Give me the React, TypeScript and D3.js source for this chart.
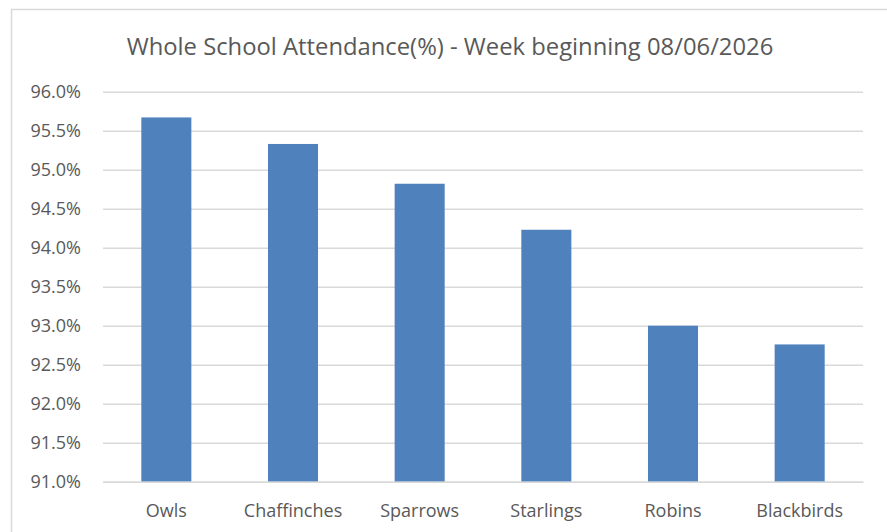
import React, { useEffect, useRef } from 'react';
import * as d3 from 'd3';

const categories = ['Owls', 'Chaffinches', 'Sparrows', 'Starlings', 'Robins', 'Blackbirds'];
const attendance = [95.67, 95.33, 94.82, 94.23, 93.0, 92.76];
const yTicks = [91.0, 91.5, 92.0, 92.5, 93.0, 93.5, 94.0, 94.5, 95.0, 95.5, 96.0];
const title = 'Whole School Attendance(%) - Week beginning 08/06/2026';

const W = 887;
const H = 532;
const FONT = "'Open Sans', 'Noto Sans', sans-serif";

const App: React.FC = () => {
  const svgRef = useRef<SVGSVGElement>(null);

  useEffect(() => {
    const svg = d3.select(svgRef.current);
    svg.selectAll('*').remove();

    const x = d3.scaleBand<string>().domain(categories).range([103, 863]).paddingInner(0.605).paddingOuter(0.3025);
    const y = d3.scaleLinear().domain([91, 96]).range([481.7, 91.7]);

    svg.append('rect').attr('width', W).attr('height', H).attr('fill', '#fff');

    // chart frame
    svg
      .append('rect')
      .attr('x', 11.5)
      .attr('y', 9.5)
      .attr('width', W + 20)
      .attr('height', H + 20)
      .attr('fill', 'none')
      .attr('stroke', '#d9d9d9')
      .attr('stroke-width', 1.5);

    svg
      .append('text')
      .attr('x', 450)
      .attr('y', 55)
      .attr('text-anchor', 'middle')
      .attr('font-family', FONT)
      .attr('font-size', 23.8)
      .attr('fill', '#595959')
      .text(title);

    const yAxis = d3
      .axisLeft(y)
      .tickValues(yTicks)
      .tickSize(-760)
      .tickPadding(22)
      .tickFormat((d) => `${(+d).toFixed(1)}%`);

    const gy = svg.append('g').attr('transform', 'translate(103,0)').call(yAxis);
    gy.select('.domain').remove();
    gy.selectAll('.tick line').attr('stroke', '#d9d9d9').attr('stroke-width', 1.5);
    gy.selectAll('.tick text')
      .attr('font-family', FONT)
      .attr('font-size', 18)
      .attr('fill', '#595959');

    svg
      .append('g')
      .selectAll('rect')
      .data(attendance)
      .join('rect')
      .attr('x', (d, i) => x(categories[i]) as number)
      .attr('y', (d) => y(d))
      .attr('width', x.bandwidth())
      .attr('height', (d) => y(91) - y(d))
      .attr('fill', '#4f81bd');

    const xAxis = d3.axisBottom(x).tickSize(0).tickPadding(23);
    const gx = svg.append('g').attr('transform', `translate(0,${y(91)})`).call(xAxis);
    gx.select('.domain').attr('stroke', '#d9d9d9').attr('stroke-width', 1.5);
    gx.selectAll('.tick text')
      .attr('font-family', FONT)
      .attr('font-size', 18)
      .attr('fill', '#595959');
  }, []);

  return (
    <svg
      ref={svgRef}
      width={W}
      height={H}
      style={{ position: 'absolute', left: 0, top: 0, display: 'block' }}
    />
  );
};

export default App;
